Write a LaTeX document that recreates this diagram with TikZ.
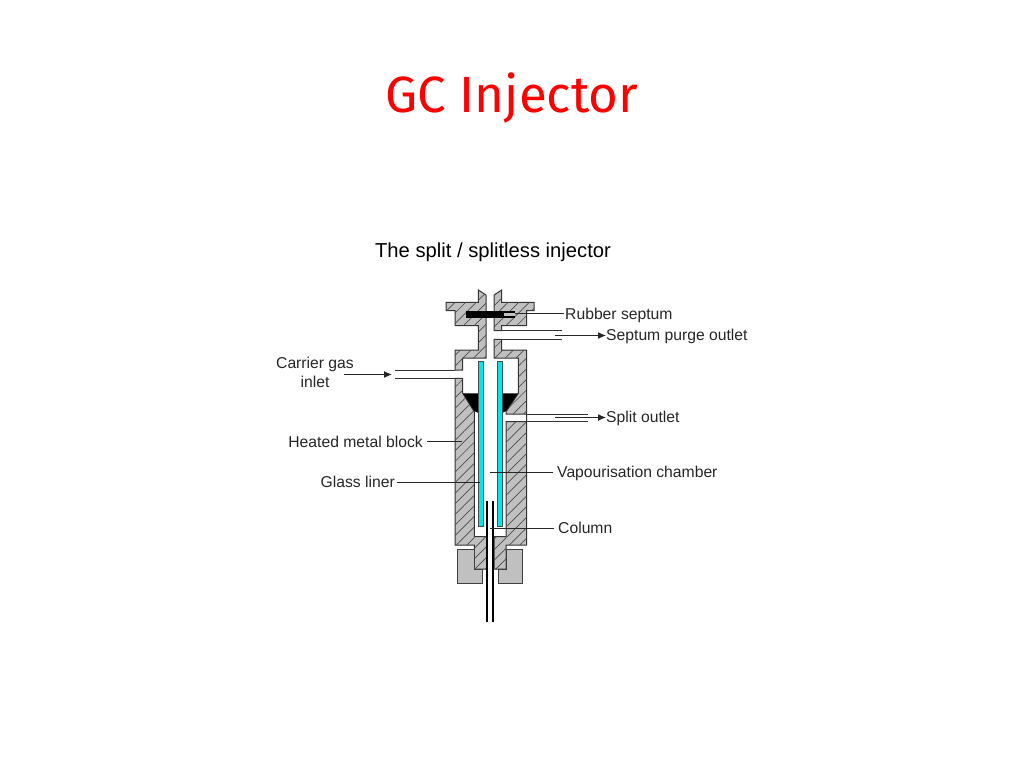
\documentclass[tikz,border=0pt]{standalone}
\usepackage{fontspec}
\setmainfont{Liberation Sans}
\newfontfamily\titlefont{Fira Sans}
\usetikzlibrary{patterns.meta,arrows.meta}
\definecolor{wallgray}{RGB}{192,192,192}
\definecolor{linercyan}{RGB}{0,230,235}
\tikzset{
  wall/.style={draw=black!80, line width=1pt, fill=wallgray,
    postaction={pattern={Lines[angle=45, distance=7.5pt, line width=0.7pt]}, pattern color=black!70}},
  nut/.style={draw=black!75, line width=1pt, fill=wallgray},
  liner/.style={draw=black!70, line width=1pt, fill=linercyan},
  pipe/.style={draw=black!80, line width=1pt},
  leader/.style={draw=black!85, line width=1pt},
  flow/.style={leader, -{Latex[length=8pt, width=7pt]}},
  lbl/.style={font=\fontsize{15.7}{19}\selectfont, text=black!85, inner sep=0pt}
}
\begin{document}
\begin{tikzpicture}[x=1pt, y=-1pt]
  \useasboundingbox (0,0) rectangle (1024,768);

  \node[font=\titlefont\fontsize{51}{56}\selectfont, text=red, inner sep=0pt] (title) at (512,98) {GC Injector};
  \node[font=\fontsize{20.2}{24}\selectfont, inner sep=0pt] (subtitle) at (493,252) {The split / splitless injector};

  % cap
  \draw[wall] (478.3,290) -- (486,295) -- (486,358) -- (462.7,358) -- (462.7,370) -- (455,370) -- (455,350) -- (478.3,350)
    -- (478.3,325.7) -- (455,325.7) -- (455,310.7) -- (446,310.7) -- (446,302.3) -- (478.3,302.3) -- cycle;
  \draw[wall] (501.7,290) -- (494,295) -- (494,330.7) -- (501.7,330.7) -- (501.7,325.7) -- (526.7,325.7) -- (526.7,310.7)
    -- (534,310.7) -- (534,302.3) -- (501.7,302.3) -- cycle;

  % heated block
  \draw[wall] (455,378.3) -- (462.7,378.3) -- (462.7,393.3) -- (474.3,411.7) -- (474.3,536.7) -- (486.7,536.7) -- (486.7,569)
    -- (474.3,569) -- (474.3,545) -- (455,545) -- cycle;
  \draw[wall] (494,339.3) -- (501.7,339.3) -- (501.7,350) -- (526.7,350) -- (526.7,545) -- (506,545) -- (506,569) -- (494,569)
    -- (494,536.7) -- (506,536.7) -- (506,421.7) -- (526.7,421.7) -- (526.7,414) -- (506,414) -- (506,411.7) -- (518.3,393.3)
    -- (518.3,358) -- (494,358) -- cycle;

  % nuts
  \draw[nut] (457.7,549) -- (474.3,549) -- (474.3,569) -- (482.7,569) -- (482.7,583.3) -- (457.7,583.3) -- cycle;
  \draw[nut] (522.7,549) -- (506,549) -- (506,569) -- (498.3,569) -- (498.3,583.3) -- (522.7,583.3) -- cycle;

  % septum
  \fill[black] (466,310.7) rectangle (515,318.3);
  \fill[wallgray] (504,313.3) rectangle (515,316);

  % funnels
  \fill[black] (463,393.3) -- (478.3,393.3) -- (478.3,413) -- (474.3,411) -- cycle;
  \fill[black] (502.3,393.3) -- (518,393.3) -- (506,411) -- (502.3,413) -- cycle;

  % liner
  \draw[liner] (478.3,361.7) rectangle (483.3,526);
  \draw[liner] (497.3,361.7) rectangle (502.3,526);

  % column
  \draw[line width=2.2pt] (487.3,501) -- (487.3,621.5);
  \draw[line width=2.2pt] (493.3,501) -- (493.3,621.5);

  % ports
  \draw[pipe] (395,370) -- (455,370);
  \draw[pipe] (395,378) -- (455,378);
  \draw[pipe] (501.7,330.5) -- (562,330.5);
  \draw[pipe] (501.7,339.3) -- (562,339.3);
  \draw[pipe] (526.7,414) -- (588,414);
  \draw[pipe] (526.7,421.7) -- (588,421.7);

  % labels
  \node[lbl, anchor=west] (septum) at (565,315) {Rubber septum};
  \node[lbl, anchor=west] (purge) at (606,336.5) {Septum purge outlet};
  \node[lbl, anchor=west] (split) at (606,418.5) {Split outlet};
  \node[lbl, align=center] (carrier) at (315,372) {Carrier gas\\inlet};
  \node[lbl, anchor=east] (block) at (423,441.5) {Heated metal block};
  \node[lbl, anchor=east] (glass) at (395,482) {Glass liner};
  \node[lbl, anchor=west] (chamber) at (557,473.5) {Vapourisation chamber};
  \node[lbl, anchor=west] (column) at (558,528) {Column};

  \coordinate (septumend) at (515,313.5);
  \coordinate (purgestart) at (555,335.5);
  \coordinate (splitstart) at (555,417.5);
  \coordinate (carrierstart) at (343.5,374.5);
  \coordinate (carrierend) at (392,374.5);
  \coordinate (blockend) at (461.5,441.5);
  \coordinate (glassend) at (480,482);
  \coordinate (chamberend) at (490,472.5);
  \coordinate (columnend) at (490,528);

  \draw[leader, shorten <=1pt] (septum.west |- septumend) -- (septumend);
  \draw[flow] (purgestart) -- (purge.west |- purgestart);
  \draw[flow] (splitstart) -- (split.west |- splitstart);
  \draw[flow] (carrierstart) -- (carrierend);
  \draw[leader, shorten <=4pt] (block) -- (blockend);
  \draw[leader, shorten <=2pt] (glass) -- (glassend);
  \draw[leader, shorten <=4pt] (chamber.west |- chamberend) -- (chamberend);
  \draw[leader, shorten <=4pt] (column) -- (columnend);
\end{tikzpicture}
\end{document}
